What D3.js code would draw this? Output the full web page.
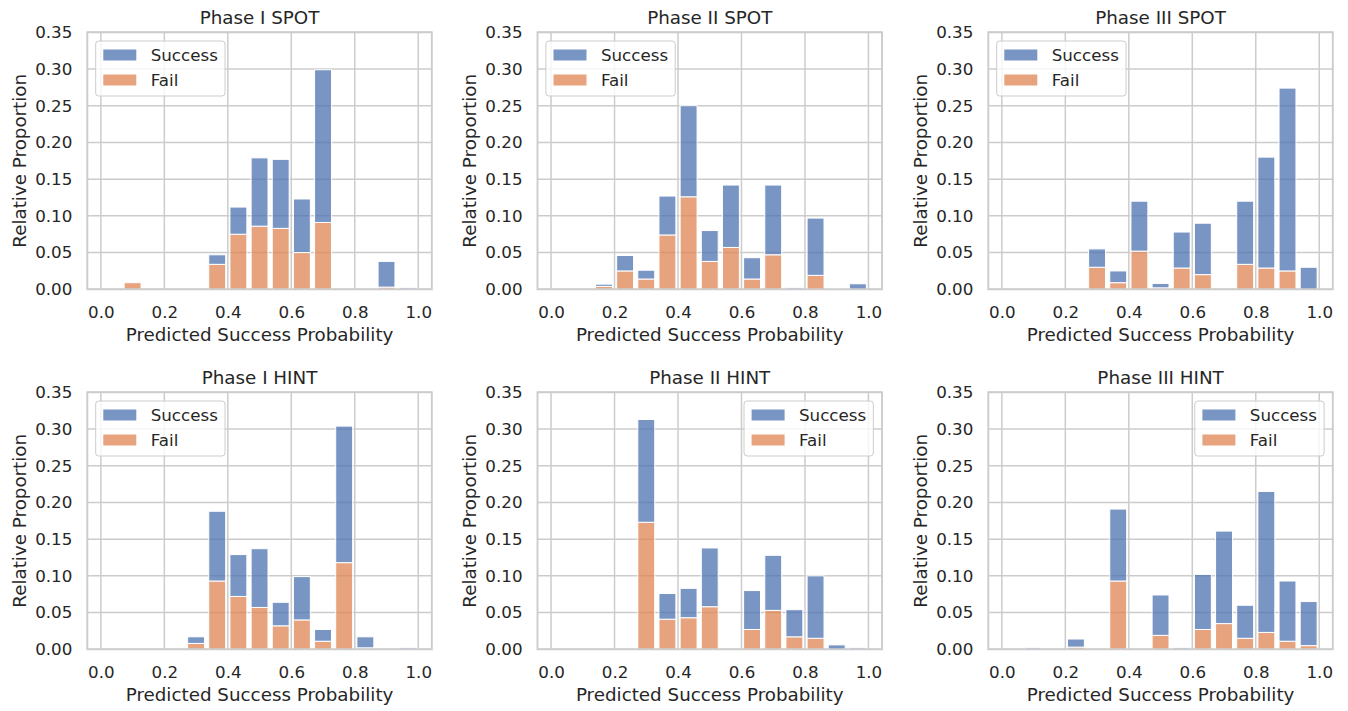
<!DOCTYPE html>
<html>
<head>
<meta charset="utf-8">
<script src="https://cdn.jsdelivr.net/npm/d3@7"></script>
<style>
  body { margin: 0; background: #fff; }
  svg { font-family: "DejaVu Sans", sans-serif; }
  .grid line { stroke: #cccccc; stroke-width: 1.5; }
  .spine { fill: none; stroke: #cccccc; stroke-width: 1.9; }
  .tick text { fill: #262626; font-size: 16.7px; }
  .title, .label { fill: #262626; font-size: 18.3px; }
  .legend text { fill: #262626; font-size: 16.7px; }
  .bar { stroke: #fff; stroke-width: 1; }
</style>
</head>
<body>
<svg id="chart" width="1348" height="711"></svg>
<script>
 // 15 equal bins over [0, 1]
 const binEdges = [0, 0.0667, 0.1333, 0.2, 0.2667, 0.3333, 0.4, 0.4667, 0.5333, 0.6, 0.6667, 0.7333, 0.8, 0.8667, 0.9333, 1.0];
 const xTicks = [0, 0.2, 0.4, 0.6, 0.8, 1.0];
 const yTicks = [0, 0.05, 0.10, 0.15, 0.20, 0.25, 0.30, 0.35];
 const seriesNames = ["Success", "Fail"];
 const seriesColors = ["#4c72b0", "#dd8452"];

 // stacked layers: fail at the bottom, success on top
 const phase1SpotFail    = [0, 0.009, 0, 0, 0, 0.034, 0.075, 0.086, 0.083, 0.050, 0.091, 0, 0, 0.003, 0];
 const phase1SpotSuccess = [0, 0, 0, 0, 0, 0.013, 0.037, 0.093, 0.094, 0.073, 0.208, 0, 0, 0.035, 0.002];
 const phase2SpotFail    = [0, 0, 0.004, 0.025, 0.014, 0.074, 0.126, 0.038, 0.057, 0.014, 0.047, 0, 0.019, 0, 0];
 const phase2SpotSuccess = [0, 0, 0.003, 0.021, 0.012, 0.053, 0.124, 0.042, 0.085, 0.029, 0.095, 0.002, 0.078, 0.0015, 0.0075];
 const phase3SpotFail    = [0, 0, 0, 0, 0.030, 0.009, 0.052, 0.002, 0.029, 0.020, 0, 0.034, 0.029, 0.025, 0];
 const phase3SpotSuccess = [0, 0, 0, 0, 0.025, 0.016, 0.068, 0.006, 0.049, 0.070, 0, 0.086, 0.151, 0.249, 0.030];
 const phase1HintFail    = [0, 0, 0, 0, 0.008, 0.093, 0.072, 0.057, 0.032, 0.040, 0.011, 0.118, 0.002, 0, 0];
 const phase1HintSuccess = [0, 0, 0, 0, 0.009, 0.095, 0.057, 0.080, 0.032, 0.059, 0.016, 0.186, 0.015, 0, 0.002];
 const phase2HintFail    = [0, 0, 0, 0, 0.173, 0.041, 0.043, 0.058, 0, 0.027, 0.053, 0.017, 0.015, 0, 0];
 const phase2HintSuccess = [0, 0, 0, 0, 0.140, 0.035, 0.040, 0.080, 0, 0.053, 0.075, 0.037, 0.085, 0.006, 0.002];
 const phase3HintFail    = [0, 0, 0, 0.003, 0, 0.093, 0, 0.019, 0, 0.027, 0.035, 0.015, 0.023, 0.011, 0.005];
 const phase3HintSuccess = [0, 0.002, 0, 0.011, 0, 0.098, 0, 0.055, 0.002, 0.075, 0.126, 0.045, 0.192, 0.082, 0.060];

 const panels = [
   { title: "Phase I SPOT",   fail: phase1SpotFail, success: phase1SpotSuccess, row: 0, col: 0, legend: "left" },
   { title: "Phase II SPOT",  fail: phase2SpotFail, success: phase2SpotSuccess, row: 0, col: 1, legend: "left" },
   { title: "Phase III SPOT", fail: phase3SpotFail, success: phase3SpotSuccess, row: 0, col: 2, legend: "left" },
   { title: "Phase I HINT",   fail: phase1HintFail, success: phase1HintSuccess, row: 1, col: 0, legend: "left" },
   { title: "Phase II HINT",  fail: phase2HintFail, success: phase2HintSuccess, row: 1, col: 1, legend: "right" },
   { title: "Phase III HINT", fail: phase3HintFail, success: phase3HintSuccess, row: 1, col: 2, legend: "right" }
 ];

 const colLeft = [87.3, 537.5, 988.3];
 const rowTop = [32.3, 392.3];
 const width = 344.5;
 const height = 257;
 const shrink = 0.8;

 const x = d3.scaleLinear().domain([-0.0427, 1.0427]).range([0, width]);
 const y = d3.scaleLinear().domain([0, 0.35]).range([height, 0]);

 const svg = d3.select('#chart');

 panels.forEach(p => {
   const g = svg.append('g')
     .attr('transform', `translate(${colLeft[p.col]},${rowTop[p.row]})`);

   // grid
   const grid = g.append('g').attr('class', 'grid');
   grid.selectAll('.vx').data(xTicks).enter().append('line')
     .attr('x1', d => x(d)).attr('x2', d => x(d))
     .attr('y1', 0).attr('y2', height);
   grid.selectAll('.hy').data(yTicks).enter().append('line')
     .attr('x1', 0).attr('x2', width)
     .attr('y1', d => y(d)).attr('y2', d => y(d));

   // bars
   const bins = p.fail.map((f, i) => {
     const lo = binEdges[i], hi = binEdges[i + 1];
     const c = (lo + hi) / 2, hw = (hi - lo) * shrink / 2;
     return { x0: c - hw, x1: c + hw, fail: f, success: p.success[i] };
   });
   g.selectAll('.fail').data(bins.filter(b => b.fail > 0)).enter().append('rect')
     .attr('class', 'bar')
     .attr('fill', seriesColors[1]).attr('fill-opacity', 0.75)
     .attr('x', d => x(d.x0))
     .attr('width', d => x(d.x1) - x(d.x0))
     .attr('y', d => y(d.fail))
     .attr('height', d => y(0) - y(d.fail));
   g.selectAll('.success').data(bins.filter(b => b.success > 0)).enter().append('rect')
     .attr('class', 'bar')
     .attr('fill', seriesColors[0]).attr('fill-opacity', 0.75)
     .attr('x', d => x(d.x0))
     .attr('width', d => x(d.x1) - x(d.x0))
     .attr('y', d => y(d.fail + d.success))
     .attr('height', d => y(d.fail) - y(d.fail + d.success));

   g.append('rect').attr('class', 'spine')
     .attr('width', width).attr('height', height);

   // axes
   const xAxis = g.append('g')
     .attr('transform', `translate(0,${height})`)
     .call(d3.axisBottom(x).tickValues(xTicks).tickFormat(d3.format('.1f')).tickSize(0).tickPadding(16.5));
   const yAxis = g.append('g')
     .call(d3.axisLeft(y).tickValues(yTicks).tickFormat(d3.format('.2f')).tickSize(0).tickPadding(15));
   [xAxis, yAxis].forEach(a => {
     a.select('.domain').remove();
     a.attr('font-family', null).attr('font-size', null);
   });

   g.append('text').attr('class', 'title')
     .attr('x', width / 2).attr('y', -8.3)
     .attr('text-anchor', 'middle')
     .text(p.title);
   g.append('text').attr('class', 'label')
     .attr('x', width / 2).attr('y', height + 51.4)
     .attr('text-anchor', 'middle')
     .text('Predicted Success Probability');
   g.append('text').attr('class', 'label')
     .attr('transform', `translate(-61.3,${height / 2}) rotate(-90)`)
     .attr('text-anchor', 'middle')
     .text('Relative Proportion');

   // legend
   const lw = 129.3, lh = 55;
   const lx = p.legend === 'left' ? 8.4 : width - 8.7 - lw;
   const legend = g.append('g').attr('class', 'legend')
     .attr('transform', `translate(${lx},8.7)`);
   legend.append('rect')
     .attr('width', lw).attr('height', lh).attr('rx', 3)
     .attr('fill', '#fff').attr('fill-opacity', 0.8)
     .attr('stroke', '#cccccc').attr('stroke-width', 1);
   seriesNames.forEach((name, i) => {
     const cy = 14 + i * 25;
     legend.append('rect')
       .attr('x', 7.6).attr('y', cy - 5.5)
       .attr('width', 33).attr('height', 11)
       .attr('fill', seriesColors[i]).attr('fill-opacity', 0.75);
     legend.append('text')
       .attr('x', 55).attr('y', cy).attr('dy', '0.36em')
       .text(name);
   });
 });
</script>
</body>
</html>
